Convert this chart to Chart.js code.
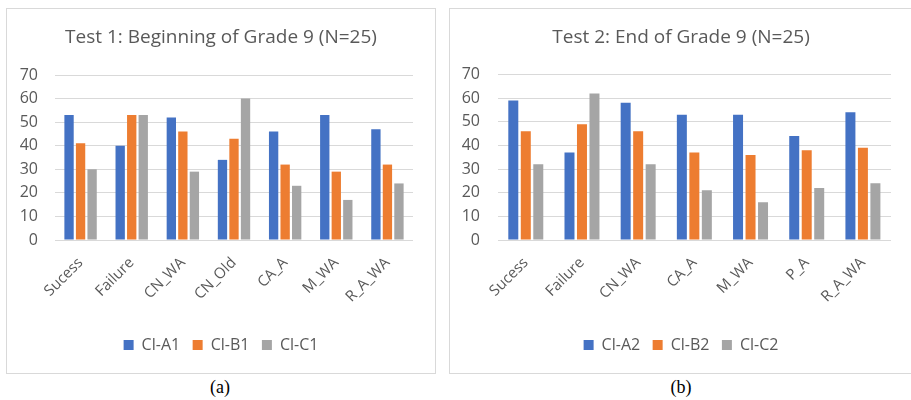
<!DOCTYPE html>
<html>
<head>
<meta charset="utf-8">
<script src="https://cdn.jsdelivr.net/npm/chart.js@4.4.0/dist/chart.umd.min.js"></script>
<style>
  html, body { margin: 0; padding: 0; background: #fff; width: 911px; height: 400px; overflow: hidden; position: relative; }
  .panel { position: absolute; border: 1px solid #d9d9d9; background: #fff; }
  #p1 { left: 6px; top: 8px; width: 428px; height: 364px; }
  #p2 { left: 449px; top: 8px; width: 462px; height: 364px; }
  canvas { display: block; }
  .cap { position: absolute; font-family: "Liberation Serif", "Times New Roman", serif; font-size: 18px; color: #000; transform: translateX(-50%); top: 377px; }
</style>
</head>
<body>
<div class="panel" id="p1"><canvas id="c1" width="428" height="364"></canvas></div>
<div class="panel" id="p2"><canvas id="c2" width="462" height="364"></canvas></div>
<div class="cap" style="left:220px;">(a)</div>
<div class="cap" style="left:681px;">(b)</div>
<script>
// ---- Data ----
const title1 = "Test 1: Beginning of Grade 9 (N=25)";
const categories1 = ["Sucess", "Failure", "CN_WA", "CN_Old", "CA_A", "M_WA", "R_A_WA"];
const clA1 = [53, 40, 52, 34, 46, 53, 47];
const clB1 = [41, 53, 46, 43, 32, 29, 32];
const clC1 = [30, 53, 29, 60, 23, 17, 24];

const title2 = "Test 2: End of Grade 9 (N=25)";
const categories2 = ["Sucess", "Failure", "CN_WA", "CA_A", "M_WA", "P_A", "R_A_WA"];
const clA2 = [59, 37, 58, 53, 53, 44, 54];
const clB2 = [46, 49, 46, 37, 36, 38, 39];
const clC2 = [32, 62, 32, 21, 16, 22, 24];

const yTicks = [0, 10, 20, 30, 40, 50, 60, 70];

// ---- Styles ----
const BLUE = "#4472C4", ORANGE = "#ED7D31", GRAY = "#A5A5A5";
const TXT = "#595959", GRID = "#D9D9D9";
const FONT = "'Open Sans', 'Noto Sans', sans-serif";

function makeChart(id, title, cats, names, series, cfg) {
  const colors = [BLUE, ORANGE, GRAY];
  return new Chart(document.getElementById(id), {
    type: 'bar',
    data: {
      labels: cats,
      datasets: series.map((s, i) => ({
        label: names[i],
        data: s,
        backgroundColor: colors[i],
        borderWidth: 0,
        barPercentage: cfg.barPct,
        categoryPercentage: cfg.catPct
      }))
    },
    options: {
      responsive: false,
      animation: false,
      devicePixelRatio: 1,
      layout: { padding: { left: 0, right: 0, top: 0, bottom: cfg.padB } },
      plugins: {
        tooltip: { enabled: false },
        title: {
          display: true, text: title, color: TXT,
          font: { family: FONT, size: 19, weight: 'normal' },
          padding: { top: cfg.titleTop, bottom: cfg.titleBottom }
        },
        legend: {
          position: 'bottom',
          labels: {
            color: TXT, boxWidth: 10, boxHeight: 10, padding: 12.5,
            font: { family: FONT, size: 16 }
          }
        }
      },
      scales: {
        x: {
          grid: { display: false },
          border: { display: false },
          ticks: { color: TXT, font: { family: FONT, size: 15 }, minRotation: 45, maxRotation: 45, padding: 6, autoSkip: false },
          afterFit: (s) => { s.height = cfg.xH; }
        },
        y: {
          min: yTicks[0], max: yTicks[yTicks.length - 1],
          grid: { color: GRID, lineWidth: 1, drawTicks: false },
          border: { display: false },
          ticks: {
            stepSize: yTicks[1] - yTicks[0],
            color: TXT, font: { family: FONT, size: 16 }, padding: cfg.yPad,
            callback: (v) => String(v)
          },
          afterFit: (s) => { s.width = cfg.yW; }
        },
        yRight: {
          position: 'right',
          display: true,
          grid: { display: false, drawTicks: false },
          border: { display: false },
          ticks: { display: false },
          afterFit: (s) => { s.width = cfg.rightW; }
        }
      }
    }
  });
}

makeChart('c1', title1, categories1, ["Cl-A1", "Cl-B1", "Cl-C1"], [clA1, clB1, clC1],
  { barPct: 0.81, catPct: 0.676, padB: 10, titleTop: 17.6, titleBottom: 25.6, xH: 84.5, yPad: 17, yW: 48, rightW: 22 });
makeChart('c2', title2, categories2, ["Cl-A2", "Cl-B2", "Cl-C2"], [clA2, clB2, clC2],
  { barPct: 0.8, catPct: 0.667, padB: 10, titleTop: 17.6, titleBottom: 25.1, xH: 84.5, yPad: 17.7, yW: 47.7, rightW: 21 });
</script>
</body>
</html>
